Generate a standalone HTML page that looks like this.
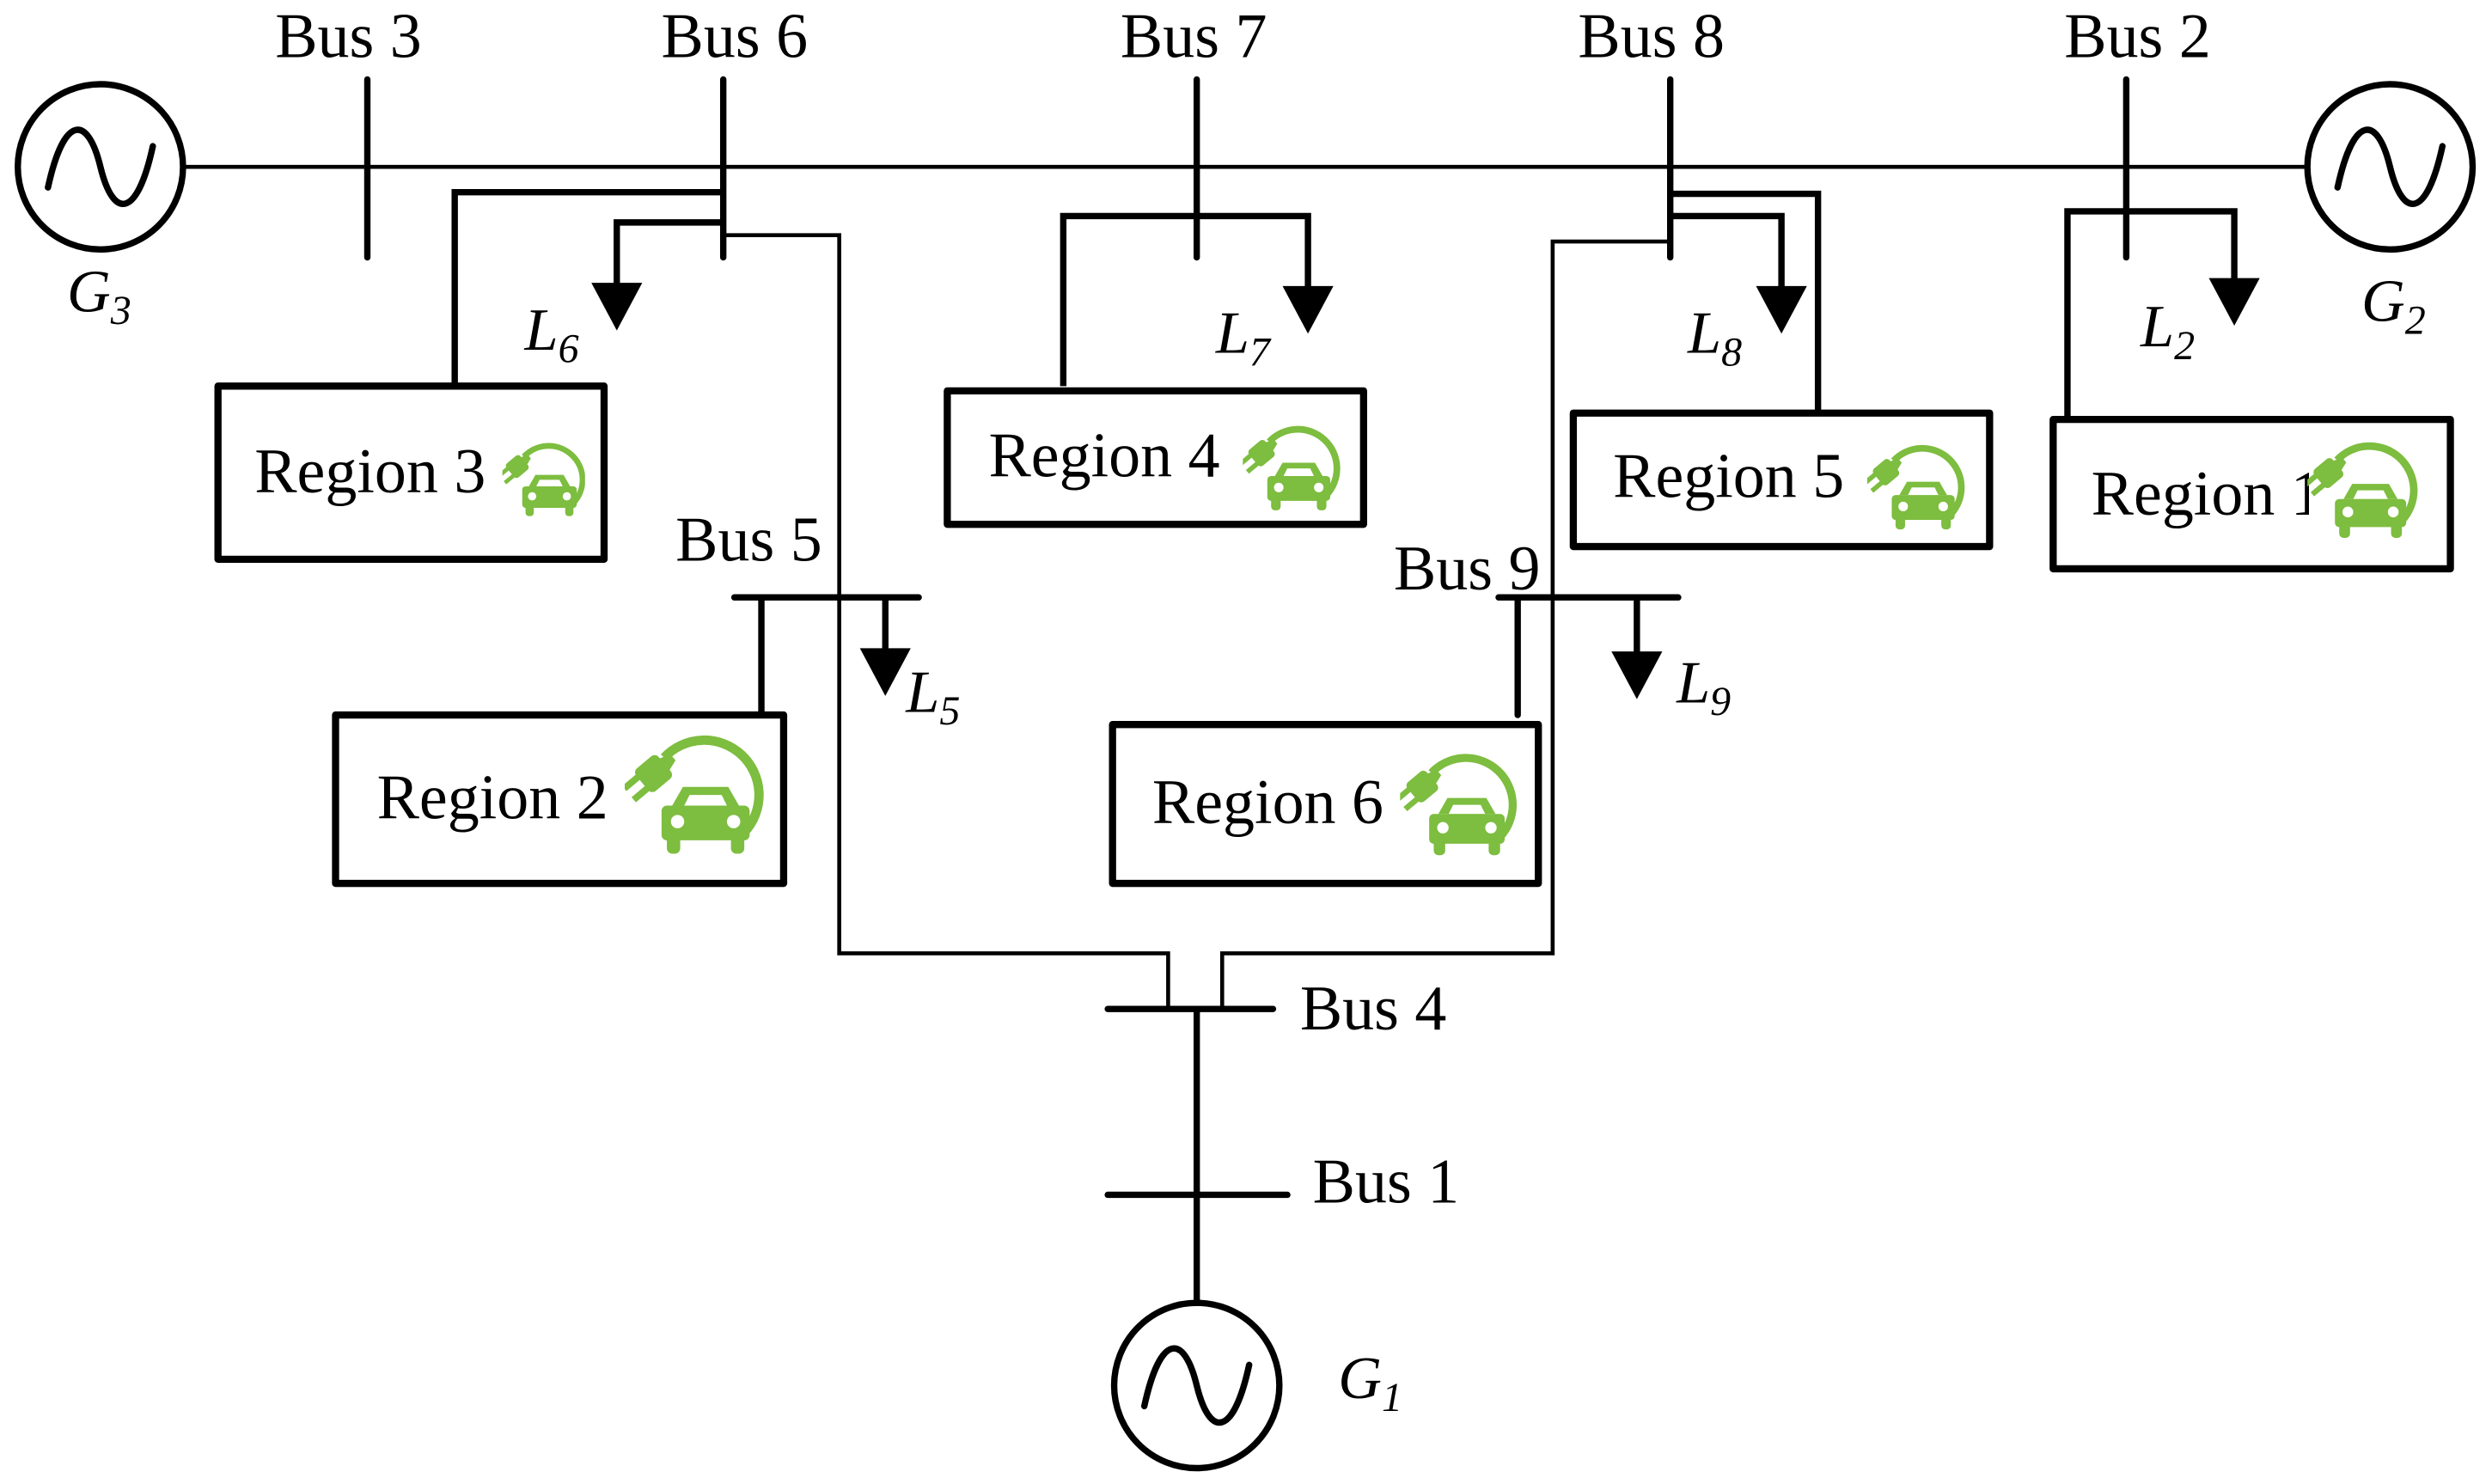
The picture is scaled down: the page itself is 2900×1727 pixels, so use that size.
<!DOCTYPE html>
<html><head><meta charset="utf-8"><style>
html,body{margin:0;padding:0;background:#fff;}
svg{display:block;}
text{font-family:"Liberation Serif",serif;fill:#000;}
</style></head><body>
<svg width="2900" height="1727" viewBox="0 0 1568 934" xmlns="http://www.w3.org/2000/svg">
<defs>
<symbol id="ev" viewBox="0 0 100 100">
<rect x="0" y="0" width="100" height="100" fill="#fff"/>
<path d="M26 20 A38 38 0 1 1 86 76" fill="none" stroke="#7dbd3f" stroke-width="7"/>
<g transform="translate(18,32) rotate(-40)" fill="#7dbd3f">
<rect x="-11" y="-11" width="22" height="22" rx="4"/>
<path d="M10 -6 L19 -3 L19 3 L10 6 Z"/>
<rect x="-24" y="-8" width="14" height="5"/>
<rect x="-24" y="3" width="14" height="5"/>
</g>
<path d="M32 56 L40 42 L74 42 L82 56 Z" fill="#7dbd3f"/>
<path d="M41 56 L45 48 L69 48 L73 56 Z" fill="#fff"/>
<rect x="24" y="56" width="66" height="26" rx="4" fill="#7dbd3f"/>
<circle cx="36" cy="68" r="5" fill="#fff"/>
<circle cx="78" cy="68" r="5" fill="#fff"/>
<rect x="28" y="78" width="10" height="14" rx="4" fill="#7dbd3f"/>
<rect x="76" y="78" width="10" height="14" rx="4" fill="#7dbd3f"/>
</symbol>
</defs>
<g stroke="#000" fill="none" stroke-linecap="round">
<line x1="115" y1="105" x2="1452" y2="105" stroke-width="2.5"/>
<circle cx="63" cy="105" r="52" stroke-width="4"/>
<path d="M30 118 C40 72 55 72 63 105 C71 138 86 138 96 92" stroke-width="4"/>
<circle cx="1504" cy="105" r="52" stroke-width="4"/>
<path d="M1471 118 C1481 72 1496 72 1504 105 C1512 138 1527 138 1537 92" stroke-width="4"/>
<circle cx="753" cy="872" r="52" stroke-width="4"/>
<path d="M720 885 C730 839 745 839 753 872 C761 905 776 905 786 859" stroke-width="4"/>
<line x1="231" y1="50" x2="231" y2="162" stroke-width="4"/>
<line x1="455" y1="50" x2="455" y2="162" stroke-width="4"/>
<line x1="753" y1="50" x2="753" y2="162" stroke-width="4"/>
<line x1="1051" y1="50" x2="1051" y2="162" stroke-width="4"/>
<line x1="1338" y1="50" x2="1338" y2="162" stroke-width="4"/>
<polyline points="286,243 286,121 455,121" stroke-width="4" stroke-linecap="butt"/>
<polyline points="455,140 388,140 388,188" stroke-width="4" stroke-linecap="butt"/>
<polyline points="455,148 528,148 528,600 735,600 735,634" stroke-width="2.5" stroke-linecap="butt"/>
<polyline points="669,243 669,136 823,136 823,188" stroke-width="4" stroke-linecap="butt"/>
<polyline points="1051,122 1144,122 1144,258" stroke-width="4" stroke-linecap="butt"/>
<polyline points="1051,136 1121,136 1121,188" stroke-width="4" stroke-linecap="butt"/>
<polyline points="1051,152 977,152 977,600 769,600 769,634" stroke-width="2.5" stroke-linecap="butt"/>
<polyline points="1301,262 1301,133 1406,133 1406,183" stroke-width="4" stroke-linecap="butt"/>
<line x1="462" y1="376" x2="578" y2="376" stroke-width="4"/>
<line x1="479" y1="376" x2="479" y2="450" stroke-width="4"/>
<line x1="557" y1="376" x2="557" y2="416" stroke-width="4"/>
<line x1="943" y1="376" x2="1056" y2="376" stroke-width="4"/>
<line x1="955" y1="376" x2="955" y2="450" stroke-width="4"/>
<line x1="1030" y1="376" x2="1030" y2="418" stroke-width="4"/>
<line x1="697" y1="635" x2="801" y2="635" stroke-width="4"/>
<line x1="753" y1="635" x2="753" y2="820" stroke-width="4"/>
<line x1="697" y1="752" x2="810" y2="752" stroke-width="4"/>
<rect x="137" y="243" width="243" height="109" stroke-width="4.5" stroke-linejoin="round"/>
<rect x="211" y="450" width="282" height="106" stroke-width="4.5" stroke-linejoin="round"/>
<rect x="596" y="246" width="262" height="84" stroke-width="4.5" stroke-linejoin="round"/>
<rect x="990" y="260" width="262" height="84" stroke-width="4.5" stroke-linejoin="round"/>
<rect x="700" y="456" width="268" height="100" stroke-width="4.5" stroke-linejoin="round"/>
<rect x="1292" y="264" width="250" height="94" stroke-width="4.5" stroke-linejoin="round"/>
</g>
<g fill="#000">
<path d="M372 178 L404 178 L388 208 Z"/>
<path d="M807 180 L839 180 L823 210 Z"/>
<path d="M1105 180 L1137 180 L1121 210 Z"/>
<path d="M1390 175 L1422 175 L1406 205 Z"/>
<path d="M541 408 L573 408 L557 438 Z"/>
<path d="M1014 410 L1046 410 L1030 440 Z"/>
</g>
<g font-size="40">
<text x="173" y="36">Bus 3</text>
<text x="416" y="36">Bus 6</text>
<text x="705" y="36">Bus 7</text>
<text x="993" y="36">Bus 8</text>
<text x="1299" y="36">Bus 2</text>
<text x="425" y="353">Bus 5</text>
<text x="877" y="371">Bus 9</text>
<text x="818" y="648">Bus 4</text>
<text x="826" y="757">Bus 1</text>
<text x="160" y="310">Region 3</text>
<text x="237" y="515">Region 2</text>
<text x="622" y="300">Region 4</text>
<text x="1015" y="313">Region 5</text>
<text x="725" y="518">Region 6</text>
<text x="1316" y="324">Region 1</text>
</g>
<g font-size="38" font-style="italic">
<text x="42" y="196">G<tspan font-size="26" dy="8">3</tspan></text>
<text x="1486" y="202">G<tspan font-size="26" dy="8">2</tspan></text>
<text x="842" y="880">G<tspan font-size="26" dy="8">1</tspan></text>
<text x="330" y="220">L<tspan font-size="26" dy="8">6</tspan></text>
<text x="765" y="222">L<tspan font-size="26" dy="8">7</tspan></text>
<text x="1062" y="222">L<tspan font-size="26" dy="8">8</tspan></text>
<text x="1347" y="218">L<tspan font-size="26" dy="8">2</tspan></text>
<text x="570" y="448">L<tspan font-size="26" dy="8">5</tspan></text>
<text x="1055" y="442">L<tspan font-size="26" dy="8">9</tspan></text>
</g>
<use href="#ev" x="316" y="276" width="52" height="54"/>
<use href="#ev" x="393" y="460" width="90" height="84"/>
<use href="#ev" x="782" y="266" width="62" height="60"/>
<use href="#ev" x="1175" y="278" width="62" height="60"/>
<use href="#ev" x="881" y="472" width="74" height="72"/>
<use href="#ev" x="1452" y="276" width="70" height="68"/>
</svg>
</body></html>
